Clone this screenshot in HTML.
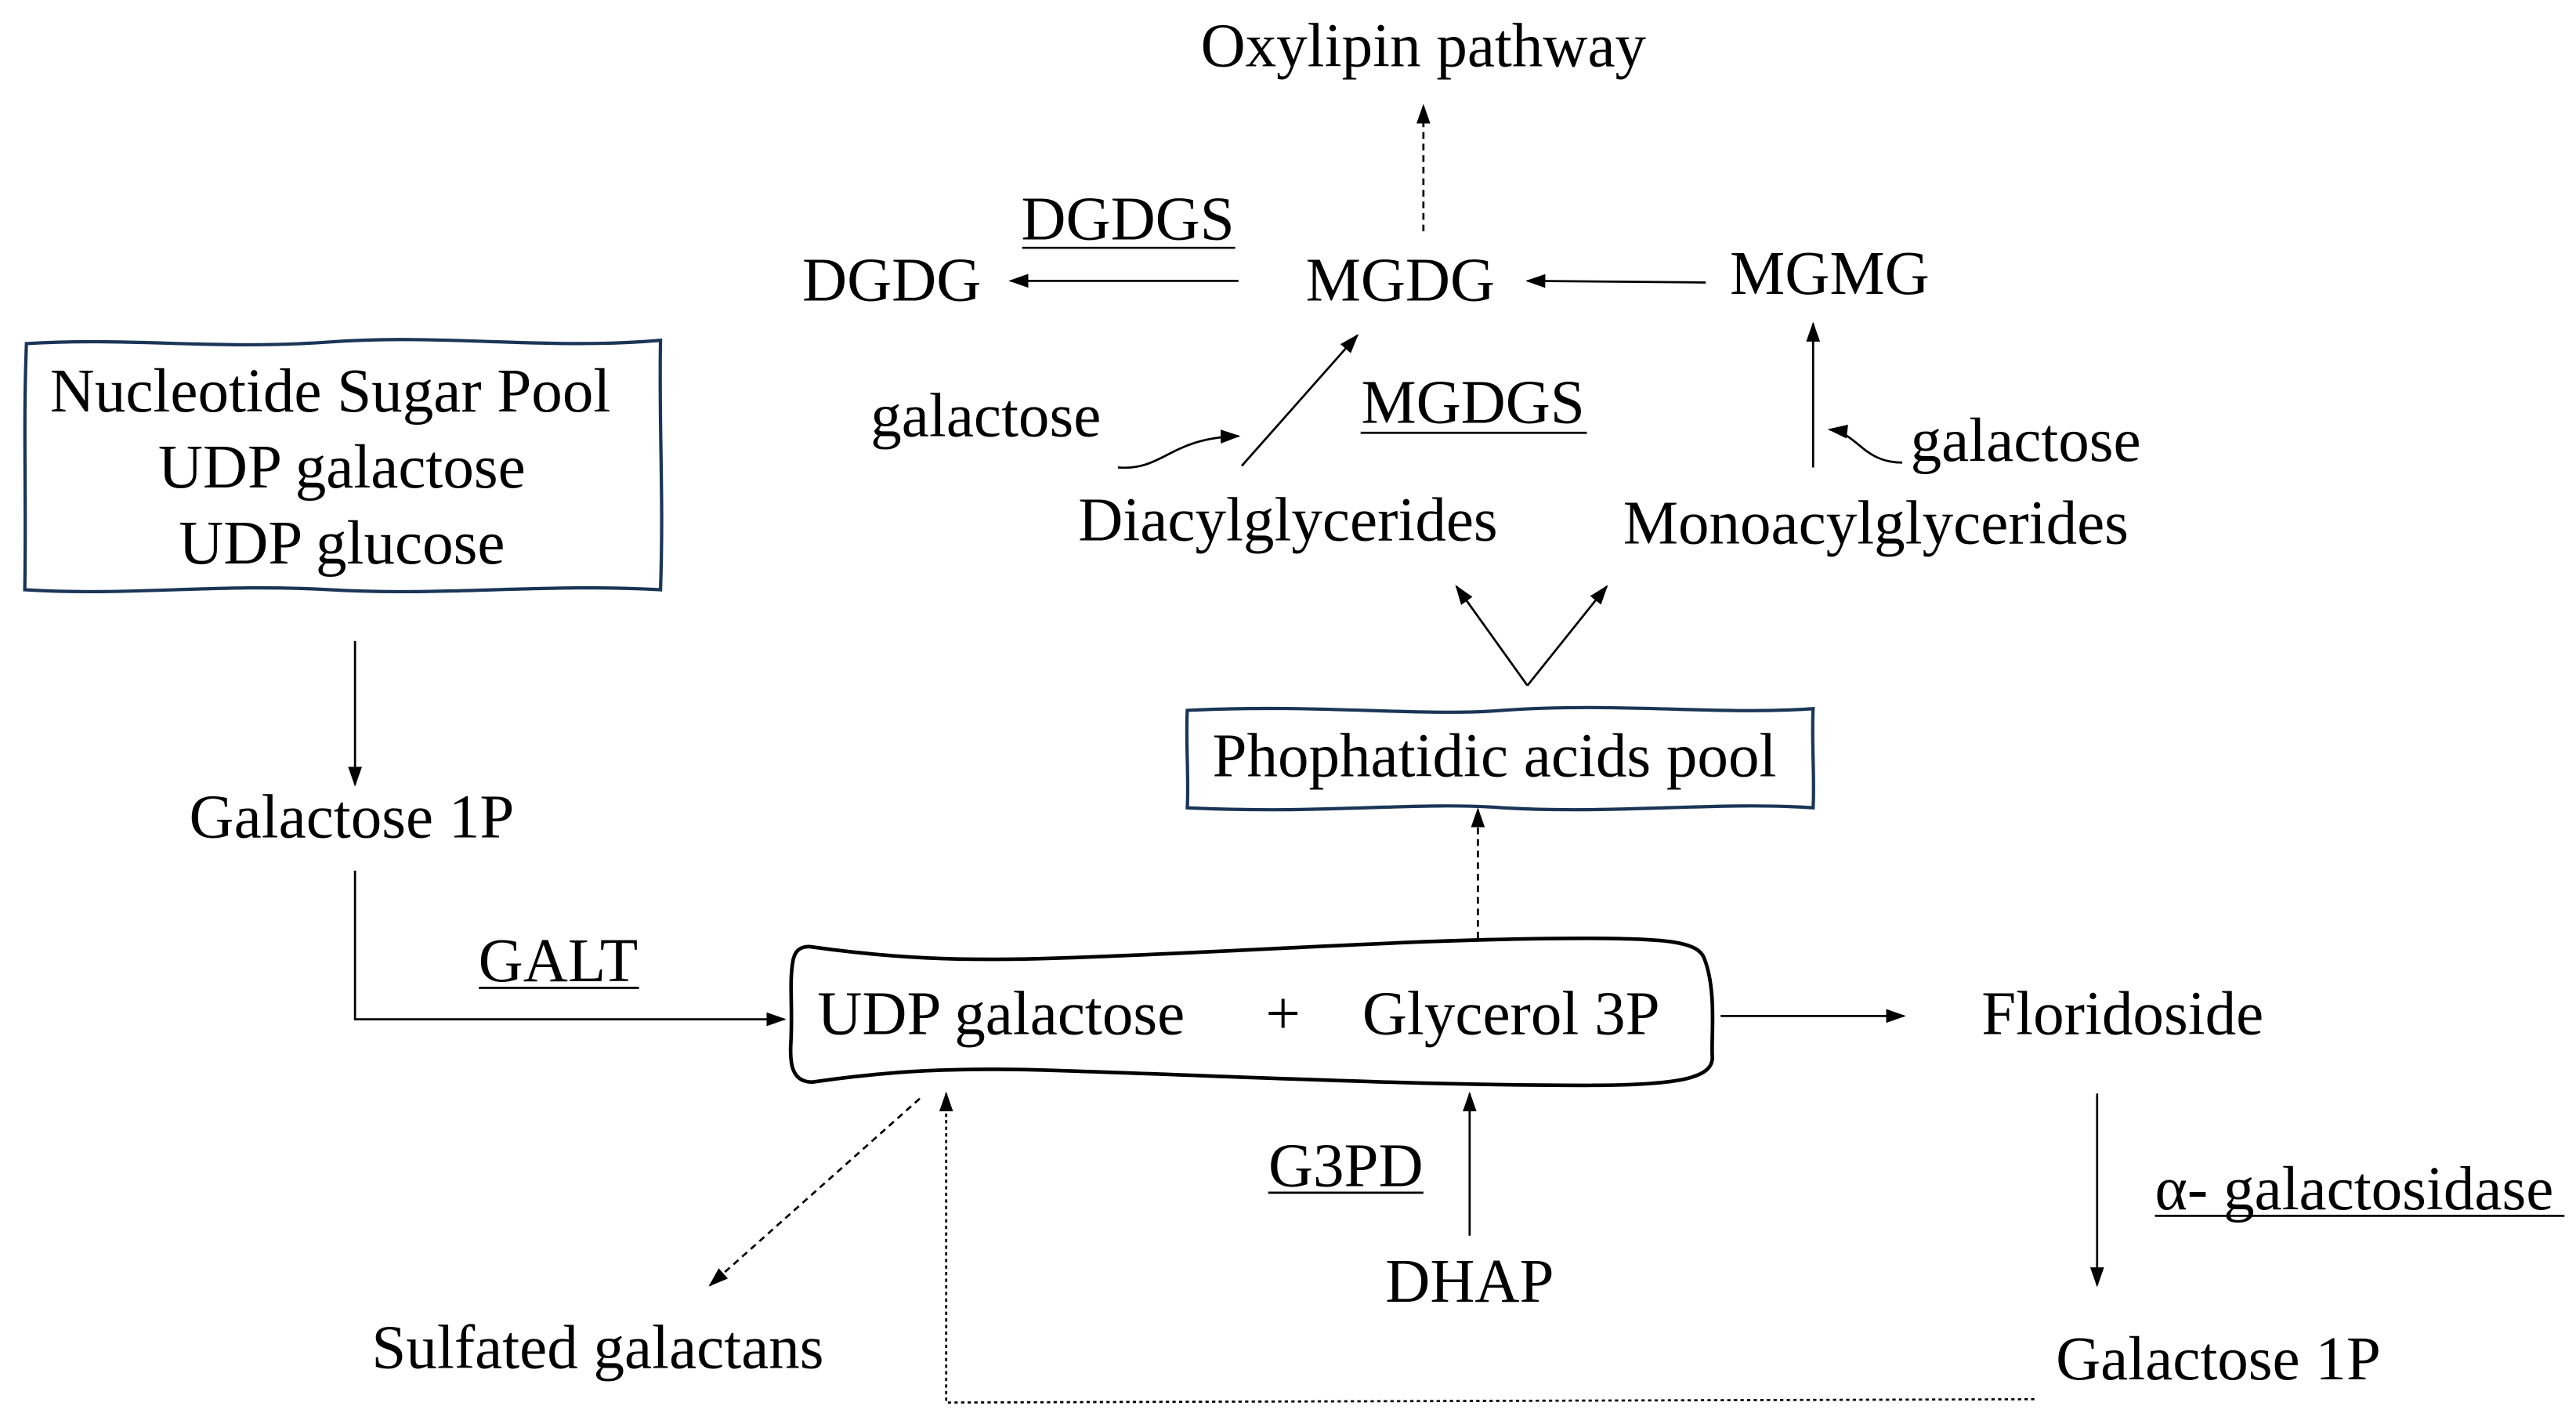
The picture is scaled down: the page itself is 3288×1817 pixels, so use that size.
<!DOCTYPE html>
<html><head><meta charset="utf-8"><style>
html,body{margin:0;padding:0;background:#fff;}
svg{display:block;}
text{font-family:"Liberation Serif",serif;font-size:37.5px;fill:#000;}
</style></head><body>
<svg width="3288" height="1817" viewBox="0 0 1560 862" preserveAspectRatio="none" xmlns="http://www.w3.org/2000/svg">
<defs>
<marker id="a" viewBox="0 0 10 10" refX="9" refY="5" markerWidth="6" markerHeight="6" orient="auto" markerUnits="userSpaceOnUse"><path d="M0,1 L10,5 L0,9 z" fill="#000"/></marker>
<marker id="b" viewBox="0 0 10 10" refX="9" refY="5" markerWidth="12" markerHeight="12" orient="auto" markerUnits="userSpaceOnUse"><path d="M0,1.5 L10,5 L0,8.5 z" fill="#000"/></marker>
</defs>
<g stroke="#000" stroke-width="1.3" fill="none">
<!-- Oxylipin dashed -->
<line x1="862" y1="140" x2="862" y2="64" stroke-dasharray="4,3" marker-end="url(#b)"/>
<line x1="750" y1="170" x2="612" y2="170" marker-end="url(#b)"/>
<line x1="1033" y1="171" x2="925" y2="170" marker-end="url(#b)"/>
<path d="M677,283 C705,285 708,265 750,264" marker-end="url(#b)"/>
<line x1="752" y1="282" x2="822" y2="203" marker-end="url(#b)"/>
<line x1="1098" y1="283" x2="1098" y2="196" marker-end="url(#b)"/>
<path d="M1152,280 C1128,280 1125,262 1108,260" marker-end="url(#b)"/>
<line x1="925" y1="415" x2="882" y2="355" marker-end="url(#b)"/>
<line x1="925" y1="415" x2="973" y2="355" marker-end="url(#b)"/>
<line x1="215" y1="388" x2="215" y2="475" marker-end="url(#b)"/>
<polyline points="215,527 215,617 475,617" marker-end="url(#b)"/>
<line x1="895" y1="568" x2="895" y2="490" stroke-dasharray="4,3" marker-end="url(#b)"/>
<line x1="1042" y1="615" x2="1153" y2="615" marker-end="url(#b)"/>
<line x1="1270" y1="662" x2="1270" y2="778" marker-end="url(#b)"/>
<polyline points="1232,847 573,849 573,662" stroke-dasharray="2,2" marker-end="url(#b)"/>
<line x1="557" y1="665" x2="430" y2="778" stroke-dasharray="4,3" marker-end="url(#b)"/>
<line x1="890" y1="748" x2="890" y2="662" marker-end="url(#b)"/>
<!-- underlines -->
<line x1="619" y1="150" x2="748" y2="150"/>
<line x1="824" y1="262" x2="961" y2="262"/>
<line x1="290" y1="598" x2="387" y2="598"/>
<line x1="768" y1="722" x2="862" y2="722"/>
<line x1="1305" y1="736" x2="1553" y2="736"/>
</g>
<!-- boxes -->
<path d="M16,208 C80,204 130,212 200,207 C270,202 330,212 400,206 C399,260 402,300 400,357 C330,353 270,361 200,357 C130,353 80,361 15,357 C16,300 14,260 16,208 Z" fill="none" stroke="#1a3557" stroke-width="2"/>
<path d="M719,430 C800,426 860,434 910,430 C980,425 1040,433 1098,429 C1097,450 1099,470 1098,489 C1040,485 980,493 910,489 C860,485 800,493 719,489 C720,470 718,450 719,430 Z" fill="none" stroke="#1a3557" stroke-width="2"/>
<path d="M490,573 C540,580 580,582 640,580 C760,576 860,568 960,568 C1010,568 1028,570 1032,580 C1040,600 1036,630 1037,640 C1037,652 1020,657 960,657 C860,657 760,652 640,648 C580,646 540,648 492,655 C480,655 478,645 479,630 C480,610 478,595 480,583 C481,575 485,573 490,573 Z" fill="none" stroke="#000" stroke-width="2.2"/>
<!-- text -->
<text x="862" y="40" text-anchor="middle">Oxylipin pathway</text>
<text x="683" y="145" text-anchor="middle">DGDGS</text>
<text x="540" y="182" text-anchor="middle">DGDG</text>
<text x="848" y="182" text-anchor="middle">MGDG</text>
<text x="1108" y="178" text-anchor="middle">MGMG</text>
<text x="597" y="264" text-anchor="middle">galactose</text>
<text x="892" y="256" text-anchor="middle">MGDGS</text>
<text x="1157" y="279">galactose</text>
<text x="780" y="327" text-anchor="middle">Diacylglycerides</text>
<text x="1136" y="329" text-anchor="middle">Monoacylglycerides</text>
<text x="200" y="249" text-anchor="middle">Nucleotide Sugar Pool</text>
<text x="207" y="295" text-anchor="middle">UDP galactose</text>
<text x="207" y="341" text-anchor="middle">UDP glucose</text>
<text x="905" y="470" text-anchor="middle">Phophatidic acids pool</text>
<text x="213" y="507" text-anchor="middle">Galactose 1P</text>
<text x="338" y="594" text-anchor="middle">GALT</text>
<text x="495" y="626">UDP galactose</text>
<text x="777" y="626" text-anchor="middle">+</text>
<text x="825" y="626">Glycerol 3P</text>
<text x="1200" y="626">Floridoside</text>
<text x="815" y="718" text-anchor="middle">G3PD</text>
<text x="1305" y="732">α- galactosidase</text>
<text x="890" y="788" text-anchor="middle">DHAP</text>
<text x="362" y="828" text-anchor="middle">Sulfated galactans</text>
<text x="1245" y="835">Galactose 1P</text>
</svg>
</body></html>
